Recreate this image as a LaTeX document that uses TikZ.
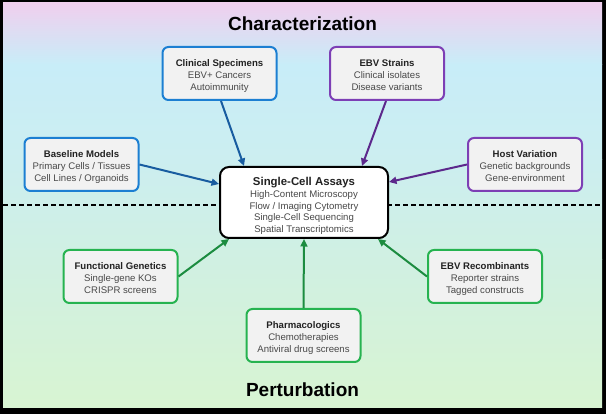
\documentclass[tikz,border=0pt]{standalone}
\usepackage{fontspec}
\setmainfont{Liberation Sans}
\usetikzlibrary{arrows.meta,calc}
\definecolor{bgpink}{RGB}{240,207,238}
\definecolor{bgcyan}{RGB}{200,237,248}
\definecolor{bgcyan2}{RGB}{204,238,240}
\definecolor{bgmint}{RGB}{208,240,226}
\definecolor{bggreen}{RGB}{216,244,210}
\definecolor{boxfill}{RGB}{242,242,242}
\definecolor{bluebd}{RGB}{28,127,210}
\definecolor{purplebd}{RGB}{125,63,181}
\definecolor{greenbd}{RGB}{38,179,80}
\definecolor{bluearr}{RGB}{24,92,160}
\definecolor{purplearr}{RGB}{92,40,140}
\definecolor{greenarr}{RGB}{28,140,64}
\definecolor{txtdark}{RGB}{34,34,34}
\definecolor{txtgray}{RGB}{72,72,72}
\newcommand{\boxhead}[1]{\rule{0pt}{11pt}{\color{txtdark}\textbf{#1}}}
\begin{document}
\begin{tikzpicture}[x=1pt,y=-1pt,
  infobox/.style={draw, rounded corners=6pt, line width=2pt, fill=boxfill,
    minimum width=114pt, minimum height=53pt, align=center, inner sep=2pt,
    font=\fontsize{9.6}{12}\selectfont, text=txtgray},
  mainbox/.style={draw=black, rounded corners=9pt, line width=2pt, fill=white,
    minimum width=168pt, minimum height=71pt, align=center, inner sep=2pt,
    font=\fontsize{9.6}{11.8}\selectfont, text=txtgray},
  conn/.style={line width=2pt, -{Triangle[length=7.5pt,width=7pt]}},
  heading/.style={font=\fontsize{19}{22}\selectfont\bfseries, text=black}]
\useasboundingbox (0,0) rectangle (606,414);
\fill[black] (0,0) rectangle (606,414);
\shade[top color=bgpink, bottom color=bgcyan] (3,3) rectangle (602,65);
\shade[top color=bgcyan, bottom color=bgcyan2] (3,65) rectangle (602,160);
\shade[top color=bgcyan2, bottom color=bgmint] (3,160) rectangle (602,260);
\shade[top color=bgmint, bottom color=bggreen] (3,260) rectangle (602,408);
\coordinate (dl) at (3,205);
\coordinate (dr) at (602,205);
\draw[black, line width=1.4pt, dash pattern=on 5pt off 3pt] (dl) -- (dr);

\node[heading, anchor=base] (tchar) at (302.5,31) {Characterization};
\node[heading, anchor=base] (tpert) at (302.5,397) {Perturbation};

\node[mainbox] (cen) at (304,202.5) {\rule{0pt}{15pt}{\fontsize{11.4}{12}\selectfont\color{txtdark}\textbf{Single-Cell Assays}}\\High-Content Microscopy\\Flow / Imaging Cytometry\\Single-Cell Sequencing\\Spatial Transcriptomics};

\node[infobox, draw=bluebd] (clin) at (219.5,73.5) {\boxhead{Clinical Specimens}\\EBV+ Cancers\\Autoimmunity};
\node[infobox, draw=purplebd] (strain) at (387,73.5) {\boxhead{EBV Strains}\\Clinical isolates\\Disease variants};
\node[infobox, draw=bluebd] (base) at (81.5,164.5) {\boxhead{Baseline Models}\\Primary Cells / Tissues\\Cell Lines / Organoids};
\node[infobox, draw=purplebd] (host) at (525,164.5) {\boxhead{Host Variation}\\Genetic backgrounds\\Gene-environment};
\node[infobox, draw=greenbd] (func) at (120.5,276.5) {\boxhead{Functional Genetics}\\Single-gene KOs\\CRISPR screens};
\node[infobox, draw=greenbd] (recomb) at (485,276.5) {\boxhead{EBV Recombinants}\\Reporter strains\\Tagged constructs};
\node[infobox, draw=greenbd] (pharm) at (303.5,335.5) {\boxhead{Pharmacologics}\\Chemotherapies\\Antiviral drug screens};

\draw[conn, bluearr] ([xshift=1.5pt]clin.south) -- ([xshift=25pt]cen.north west);
\draw[conn, purplearr] ([xshift=-1pt]strain.south) -- ([xshift=-27pt]cen.north east);
\draw[conn, bluearr] (base.east) -- ([yshift=-18pt]cen.north west);
\draw[conn, purplearr] (host.west) -- ([yshift=-16pt]cen.north east);
\draw[conn, greenarr] (func.east) -- ([xshift=10pt]cen.south west);
\draw[conn, greenarr] (pharm.north) -- (cen.south);
\draw[conn, greenarr] (recomb.west) -- ([xshift=-11pt]cen.south east);
\end{tikzpicture}
\end{document}
